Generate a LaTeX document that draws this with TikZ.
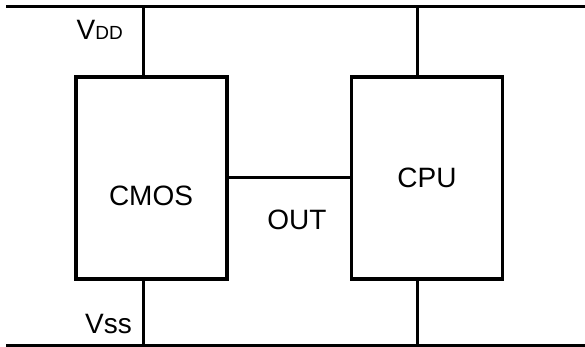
\documentclass[tikz,border=0pt]{standalone}
\usepackage{fontspec}
\setmainfont{Liberation Sans}
\usetikzlibrary{positioning}
\tikzset{
  blk/.style={draw, line width=3.2pt, minimum width=151pt, minimum height=202pt,
              inner sep=0pt, font=\fontsize{28}{32}\selectfont},
  lbl/.style={inner sep=0pt, font=\fontsize{28}{32}\selectfont},
  wire/.style={line width=3pt},
}
\begin{document}
\begin{tikzpicture}[x=1pt, y=-1pt]
  \useasboundingbox (0,0) rectangle (585,347);
  % supply rails
  \coordinate (vddL) at (6,6.5);
  \coordinate (vddR) at (585,6.5);
  \coordinate (vssL) at (6,345.5);
  \coordinate (vssR) at (585,345.5);
  \draw[wire] (vddL) -- (vddR);
  \draw[wire] (vssL) -- (vssR);

  \node[blk] (cmos) at (151.5,178) {};
  \node[blk] (cpu) at (427,178) {CPU};
  \node[lbl] (cmoslbl) at (151,195.5) {CMOS};
  \node[lbl] (out) at (297,220) {OUT};
  \node[lbl, anchor=base east] (vdd) at (123,40)
    {V{\fontsize{19}{22}\selectfont DD}};
  \node[lbl, anchor=base east] (vss) at (132,333) {Vss};

  \draw[wire] ([xshift=-8pt]cmos.north) -- ([xshift=-8pt]cmos.north |- vddL);
  \draw[wire] ([xshift=-8pt]cmos.south) -- ([xshift=-8pt]cmos.south |- vssL);
  \draw[wire] ([xshift=-10pt]cpu.north) -- ([xshift=-10pt]cpu.north |- vddL);
  \draw[wire] ([xshift=-10pt]cpu.south) -- ([xshift=-10pt]cpu.south |- vssL);
  \draw[wire] (cmos.east) -- (cpu.west);
\end{tikzpicture}
\end{document}
